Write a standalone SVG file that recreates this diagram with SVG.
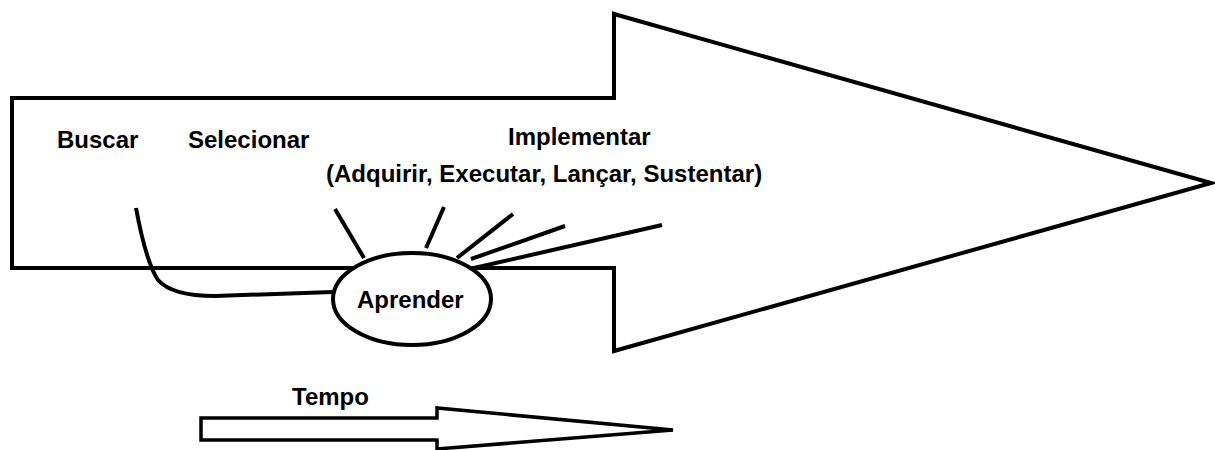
<svg xmlns="http://www.w3.org/2000/svg" width="1215" height="450" viewBox="0 0 1215 450">
<style>
.s{fill:none;stroke:#000;stroke-width:4;stroke-linejoin:miter;stroke-linecap:butt}
.f{fill:#fff;stroke:#000;stroke-width:4;stroke-linejoin:miter}
.t{font-family:"Liberation Sans",Arial,sans-serif;font-weight:bold;font-size:24px;fill:#000}
</style>
<rect width="1215" height="450" fill="#fff"/>
<g id="big-arrow">
<polygon class="f" points="12,98 614,98 614,14 1211,183 614,351 614,268 12,268"/>
<text class="t" x="57" y="148">Buscar</text>
<text class="t" x="188" y="148">Selecionar</text>
<text class="t" x="508" y="145">Implementar</text>
<text class="t" x="326" y="182">(Adquirir, Executar, Lançar, Sustentar)</text>
</g>
<g id="aprender">
<ellipse class="f" cx="412" cy="299" rx="79" ry="46"/>
<text class="t" x="357" y="308">Aprender</text>
</g>
<g id="connectors">
<path class="s" d="M136,208 Q146,262 158,280 Q172,296 215,296 L333,292"/>
<line class="s" x1="335" y1="209" x2="364" y2="258"/>
<line class="s" x1="444" y1="207" x2="426" y2="248"/>
<line class="s" x1="513" y1="214" x2="457" y2="258"/>
<line class="s" x1="565" y1="226" x2="471" y2="259"/>
<line class="s" x1="662" y1="225" x2="474" y2="268"/>
</g>
<g id="tempo">
<polygon class="f" style="stroke-width:3.5" points="201,418 437,418 437,408 673,430 437,449 437,440 201,440"/>
<text class="t" x="292" y="405">Tempo</text>
</g>
</svg>
